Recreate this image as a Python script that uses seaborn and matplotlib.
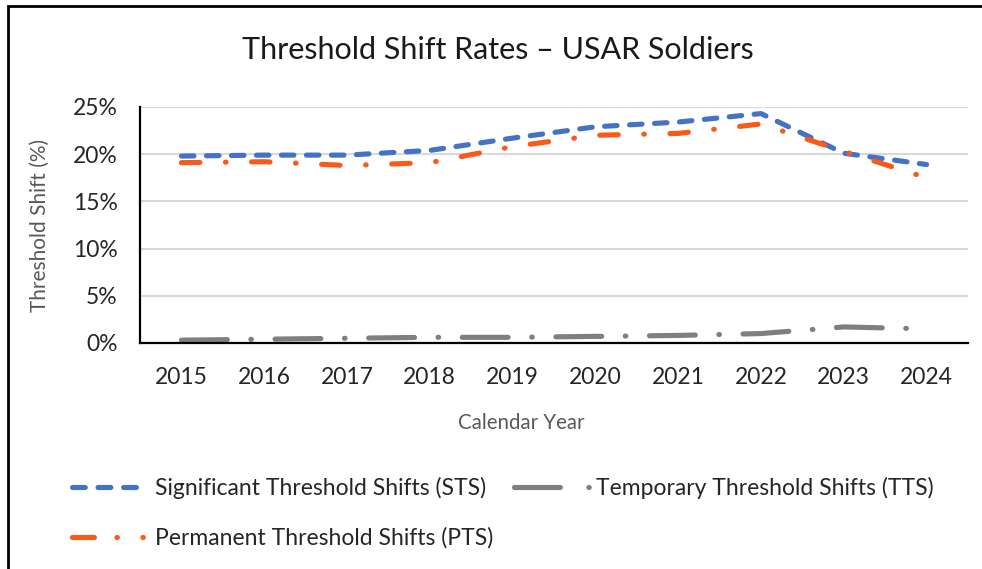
import numpy as np
import pandas as pd
import matplotlib

matplotlib.use('Agg')

import matplotlib.pyplot as plt
import seaborn as sns
from matplotlib.lines import Line2D
from matplotlib.patches import Rectangle

sns.set_style("white")
plt.rcParams['font.family'] = ['Lato', 'DejaVu Sans']
plt.rcParams['lines.scale_dashes'] = False

years = ["2015", "2016", "2017", "2018", "2019", "2020", "2021", "2022", "2023", "2024"]
sts = [19.8, 19.9, 19.9, 20.4, 21.7, 22.9, 23.4, 24.3, 20.1, 18.9]
tts = [0.3, 0.4, 0.5, 0.6, 0.6, 0.7, 0.8, 1.0, 1.7, 1.5]
pts = [19.1, 19.2, 18.8, 19.1, 20.8, 22.0, 22.2, 23.2, 20.3, 17.5]

labels = ["Significant Threshold Shifts (STS)",
          "Temporary Threshold Shifts (TTS)",
          "Permanent Threshold Shifts (PTS)"]

blue = "#4472C4"
gray = "#7F7F7F"
orange = "#F95A1C"

df = pd.DataFrame({"pos": np.arange(len(years)), "sts": sts, "tts": tts, "pts": pts})

fig = plt.figure(figsize=(9.82, 5.69), dpi=100)
ax = fig.add_axes([0.1426, 0.3972, 0.8431, 0.4148])

lw = 3.7
styles = [("sts", blue, (9, 9)),
          ("tts", gray, (33, 17, 0.4, 17)),
          ("pts", orange, (13.3, 18.4, 0.4, 18.4))]
for col, c, dash in styles:
    sns.lineplot(data=df, x="pos", y=col, ax=ax, color=c, linewidth=lw)
    ln = ax.lines[-1]
    ln.set_dashes(dash)
    ln.set_dash_capstyle('round')
    ln.set_solid_capstyle('round')

ax.set_xlim(-0.5, len(years) - 0.5)
ax.set_ylim(0, 25)
ax.set_xticks(df["pos"])
ax.set_xticklabels(years)
ax.set_yticks([0, 5, 10, 15, 20, 25])
ax.set_yticklabels([f"{v}%" for v in range(0, 30, 5)])
ax.tick_params(axis='both', labelsize=16.5, length=0, colors="#262626")
ax.tick_params(axis='x', pad=17)
ax.tick_params(axis='y', pad=16)
ax.yaxis.grid(True, color="#D9D9D9", linewidth=1.5)
ax.xaxis.grid(False)
ax.set_axisbelow(True)
for s in ["top", "right"]:
    ax.spines[s].set_visible(False)
for s in ["left", "bottom"]:
    ax.spines[s].set_color("black")
    ax.spines[s].set_linewidth(1.6)

ax.set_xlabel("Calendar Year", fontsize=14.8, color="#595959")
ax.set_ylabel("Threshold Shift (%)", fontsize=15, color="#595959")
ax.xaxis.set_label_coords(0.46, -0.339)
ax.xaxis.label.set_va("center")
ax.yaxis.set_label_coords(-0.121, 0.5)
ax.yaxis.label.set_va("center")

fig.text(0.507, 0.912, "Threshold Shift Rates \u2013 USAR Soldiers",
         ha="center", va="center", fontsize=22, color="#1a1a1a")

# legend handles drawn the way the original legend shows them
handles = [Line2D([], [], color=blue, linewidth=lw, dashes=(9.2, 9.2),
                  dash_capstyle='round'),
           Line2D([], [], color=orange, linewidth=lw,
                  dashes=(15.8, 16.2, 0.3, 18.4, 0.3, 50),
                  dash_capstyle='round'),
           Line2D([], [], color=gray, linewidth=lw, dashes=(33, 20.5, 0.3, 50),
                  dash_capstyle='round')]
order_labels = [labels[0], labels[2], labels[1]]
fig.legend(handles, order_labels, ncol=2, loc="upper left",
           bbox_to_anchor=(0.0738, 0.162), frameon=False, fontsize=16.5,
           handlelength=3.3, handletextpad=0.3, columnspacing=0.9,
           labelspacing=1.25, borderaxespad=0, borderpad=0)

fig.patches.append(Rectangle((8 / 982, -0.05), 1.1, 1.05 - 6 / 569,
                             transform=fig.transFigure, fill=False,
                             edgecolor="black", linewidth=2))

plt.savefig("out.png", dpi=100)
